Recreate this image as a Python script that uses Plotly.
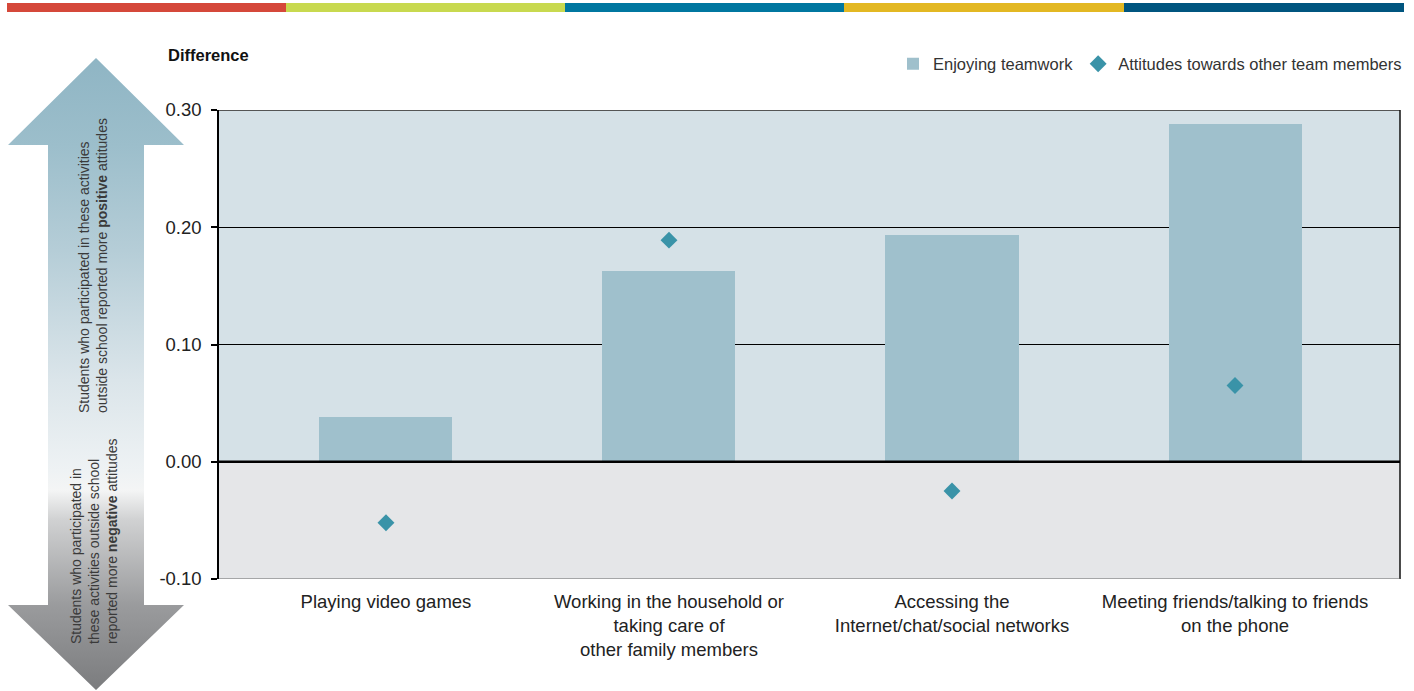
import plotly.graph_objects as go

categories = [
    "Playing video games",
    "Working in the household or<br>taking care of<br>other family members",
    "Accessing the<br>Internet/chat/social networks",
    "Meeting friends/talking to friends<br>on the phone",
]
enjoying_teamwork = [0.038, 0.163, 0.193, 0.288]
attitudes_team = [-0.052, 0.189, -0.025, 0.065]
y_ticks = [-0.10, 0.00, 0.10, 0.20, 0.30]
y_tick_labels = [f"{v:.2f}" for v in y_ticks]
top_band_colors = ["#d5483a", "#c8d94f", "#0077a0", "#e3b823", "#00557f"]

W, H = 1414, 691
FONT = "Liberation Sans, Arial, Helvetica, sans-serif"
BAR_C = "#9fc0cc"
DIA_C = "#3a93a8"

# pixel helpers for layout placement
PL, PR, PT, PB = 219, 1400, 110, 579

fig = go.Figure()
xs = list(range(len(categories)))

fig.add_trace(go.Bar(
    x=xs, y=enjoying_teamwork, width=0.47, marker_color=BAR_C,
    marker_line_width=0, name="Enjoying teamwork",
    xaxis="x", yaxis="y",
))
fig.add_trace(go.Scatter(
    x=xs, y=attitudes_team, mode="markers", name="Attitudes towards other team members",
    marker=dict(symbol="diamond", size=13, color=DIA_C),
    xaxis="x", yaxis="y",
))

# left arrow (drawn in a pixel-like helper subplot; y up = H - py)
ax_pts = [(96, 58), (184, 145), (144, 145), (144, 605), (184, 605), (96, 690),
          (8, 605), (48, 605), (48, 145), (8, 145), (96, 58)]
fig.add_trace(go.Scatter(
    x=[p[0] for p in ax_pts], y=[H - p[1] for p in ax_pts],
    mode="lines", fill="toself", line=dict(width=0),
    fillgradient=dict(type="vertical", colorscale=[
        [0.0, "#7b7c7e"], [0.134, "#9a9b9d"], [0.269, "#d0d1d2"],
        [0.316, "#f4f5f5"], [0.348, "#eef2f4"], [0.49, "#dbe5ea"],
        [0.696, "#b5cdd7"], [0.862, "#9cbecb"], [1.0, "#8fb5c4"]]),
    hoverinfo="skip", showlegend=False, xaxis="x2", yaxis="y2",
))

def px_x(px):
    return px / W

def px_y(py):
    return (H - py) / H

shapes = []
# background regions
shapes.append(dict(type="rect", xref="x domain", yref="y", x0=0, x1=1, y0=0, y1=0.3,
                   fillcolor="#d5e1e7", line_width=0, layer="below"))
shapes.append(dict(type="rect", xref="x domain", yref="y", x0=0, x1=1, y0=-0.1, y1=0,
                   fillcolor="#e5e6e8", line_width=0, layer="below"))
# borders
shapes.append(dict(type="line", xref="x domain", yref="y", x0=0, x1=1, y0=0.3, y1=0.3,
                   line=dict(color="#555555", width=2)))
shapes.append(dict(type="line", xref="x domain", yref="y", x0=1, x1=1, y0=-0.1, y1=0.3,
                   line=dict(color="#111111", width=1.5)))
shapes.append(dict(type="line", xref="x domain", yref="y", x0=0, x1=1, y0=-0.1, y1=-0.1,
                   line=dict(color="#666666", width=1.2)))
shapes.append(dict(type="line", xref="x domain", yref="y", x0=0, x1=1, y0=0, y1=0,
                   line=dict(color="#000000", width=2.5)))
# top colour band
seg_edges = [7, 286, 565, 844, 1124, 1404]
for i, c in enumerate(top_band_colors):
    shapes.append(dict(type="rect", xref="paper", yref="paper",
                       x0=px_x(seg_edges[i]), x1=px_x(seg_edges[i + 1]),
                       y0=px_y(12), y1=px_y(3), fillcolor=c, line_width=0))

annotations = [
    dict(text="<b>Difference</b>", xref="paper", yref="paper", x=px_x(166), y=px_y(55),
         xanchor="left", yanchor="middle", showarrow=False,
         font=dict(size=16.5, color="#111111", family=FONT)),
    dict(text="Students who participated in these activities<br>outside school reported more <b>positive</b> attitudes",
         xref="x2", yref="y2", x=93, y=H - 266, textangle=-90, align="left",
         xanchor="center", yanchor="middle", showarrow=False,
         font=dict(size=14, color="#3a3a3a", family=FONT)),
    dict(text="Students who participated in<br>these activities outside school<br>reported more <b>negative</b> attitudes",
         xref="x2", yref="y2", x=94, y=H - 542, textangle=-90, align="left",
         xanchor="center", yanchor="middle", showarrow=False,
         font=dict(size=14, color="#3a3a3a", family=FONT)),
]

fig.update_layout(
    width=W, height=H, autosize=False,
    margin=dict(l=0, r=0, t=0, b=0, pad=0, autoexpand=False),
    paper_bgcolor="white", plot_bgcolor="rgba(0,0,0,0)",
    font=dict(family=FONT, color="#222222"),
    bargap=0,
    xaxis=dict(domain=[PL / W, PR / W], range=[-0.59, 3.583], tickvals=xs, ticktext=categories,
               showgrid=False, zeroline=False, showline=False, ticks="", automargin=False,
               ticklabelstandoff=9,
               tickfont=dict(size=18.5, color="#222222"), anchor="y", fixedrange=True),
    yaxis=dict(domain=[(H - PB) / H, (H - PT) / H], range=[-0.1, 0.3], tickvals=y_ticks,
               ticktext=y_tick_labels, showgrid=True, gridcolor="#000000", gridwidth=1,
               zeroline=False, showline=True, linecolor="#000000", linewidth=1.5,
               ticks="outside", ticklen=6, tickcolor="#000000", tickwidth=1.5,
               ticklabelstandoff=6, automargin=False,
               tickfont=dict(size=18.5, color="#222222"), anchor="x", fixedrange=True),
    xaxis2=dict(domain=[0, 200 / W], range=[0, 200], visible=False, anchor="y2",
                fixedrange=True, automargin=False),
    yaxis2=dict(domain=[0, 1], range=[0, H], visible=False, anchor="x2",
                fixedrange=True, automargin=False),
    legend=dict(orientation="h", x=px_x(1407), y=px_y(64), xanchor="right", yanchor="middle",
                font=dict(size=16.5, color="#333333", family=FONT), bgcolor="rgba(0,0,0,0)",
                itemclick=False, tracegroupgap=0),
    shapes=shapes, annotations=annotations,
    showlegend=True,
)

fig.write_html("out.html")
